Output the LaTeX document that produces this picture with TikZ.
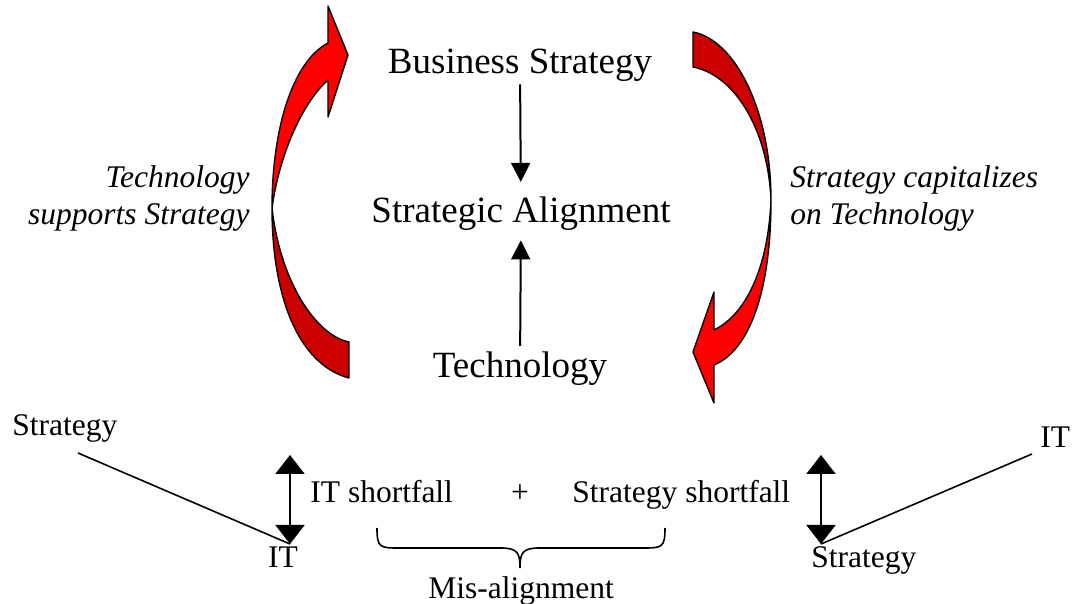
\documentclass[tikz,border=0pt]{standalone}
\usepackage{fontspec}
\setmainfont{Liberation Serif}
\usetikzlibrary{arrows.meta}
\definecolor{arrowred}{RGB}{255,0,0}
\definecolor{arrowdark}{RGB}{204,0,0}
\begin{document}
\begin{tikzpicture}[x=0.5pt,y=-0.5pt]
            \tikzset{bigtext/.style = {inner sep=0pt, font=\fontsize{18.5}{22}\selectfont}}
            \tikzset{smalltext/.style = {inner sep=0pt, font=\fontsize{15.75}{18.5}\selectfont}}
            \tikzset{slanttext/.style = {inner sep=0pt, font=\fontsize{15.75}{18.5}\selectfont\itshape}}
            \tikzset{link/.style = {draw=black, line width=1pt, -{Triangle[width=9.5pt,length=9.5pt]}}}
            \tikzset{gap/.style = {draw=black, line width=1pt, {Triangle[width=14.5pt,length=9.5pt]}-{Triangle[width=14.5pt,length=9.5pt]}}}
            \tikzset{turn/.style = {draw=black, line width=0.7pt, line join=round}}
            \useasboundingbox (0,0) rectangle (1073,604);
            % alignment nodes
            \node[bigtext, anchor=base] (bs) at (520,74) {Business Strategy};
            \node[bigtext, anchor=base] (sa) at (521,223) {Strategic Alignment};
            \node[bigtext, anchor=base] (tech) at (520,378) {Technology};
            \node[slanttext, anchor=base east, align=right] (tss) at (250,225) {Technology\\supports Strategy};
            \node[slanttext, anchor=base west, align=left] (sct) at (790,225) {Strategy capitalizes\\on Technology};
            % alignment arrows
            \draw[link, shorten <=1pt, shorten >=7.5pt] (bs) to (sa);
            \draw[link, shorten <=3pt, shorten >=4.5pt] (tech) to (sa);
            % curved arrows
            \filldraw[turn, fill=arrowdark] (272,208) .. controls (272,300) and (300,365) .. (349,378)
                -- (349,342) .. controls (315,335) and (280,280) .. (272,208) -- cycle;
            \filldraw[turn, fill=arrowred] (272,208) .. controls (272,130) and (292,62) .. (328,43)
                -- (328,6) -- (348,55) -- (328,117) -- (328,80)
                .. controls (305,100) and (280,150) .. (272,208) -- cycle;
            \filldraw[turn, fill=arrowdark] (693,32) .. controls (735,40) and (771,110) .. (771,200)
                .. controls (768,130) and (735,75) .. (693,67) -- cycle;
            \filldraw[turn, fill=arrowred] (771,200) .. controls (771,290) and (750,350) .. (714,365)
                -- (714,403) -- (693,352) -- (714,292) -- (714,330)
                .. controls (745,315) and (768,270) .. (771,200) -- cycle;
            % shortfall nodes
            \node[smalltext, anchor=base west] (lstrat) at (12,436) {Strategy};
            \node[smalltext, anchor=base] (lit) at (283,568) {IT};
            \node[smalltext, anchor=base west] (itsf) at (310,503) {IT shortfall};
            \node[smalltext, anchor=base] (plus) at (520,503) {+};
            \node[smalltext, anchor=base west] (stsf) at (572,503) {Strategy shortfall};
            \node[smalltext, anchor=base] (mis) at (521,599) {Mis-alignment};
            \node[smalltext, anchor=base west] (rit) at (1040,448) {IT};
            \node[smalltext, anchor=base west] (rstrat) at (811,568) {Strategy};
            \coordinate (lsa) at (78,453);
            \coordinate (ltop) at (290,455);
            \coordinate (lbot) at (290,544);
            \coordinate (rite) at (1032,454);
            \coordinate (rtop) at (821,455);
            \coordinate (rbot) at (821,544);
            % shortfall lines
            \draw[line width=0.8pt] (lsa) -- (lbot);
            \draw[gap] (ltop) -- (lbot);
            \draw[line width=0.8pt] (rite) -- (rbot);
            \draw[gap] (rtop) -- (rbot);
            % brace
            \draw[line width=0.8pt] (377,528) .. controls (377,548) and (380,548) .. (400,548) -- (500,548)
                .. controls (517,548) and (520,552) .. (520,568)
                .. controls (520,552) and (523,548) .. (540,548) -- (642,548)
                .. controls (662,548) and (665,548) .. (665,528);
\end{tikzpicture}
\end{document}
